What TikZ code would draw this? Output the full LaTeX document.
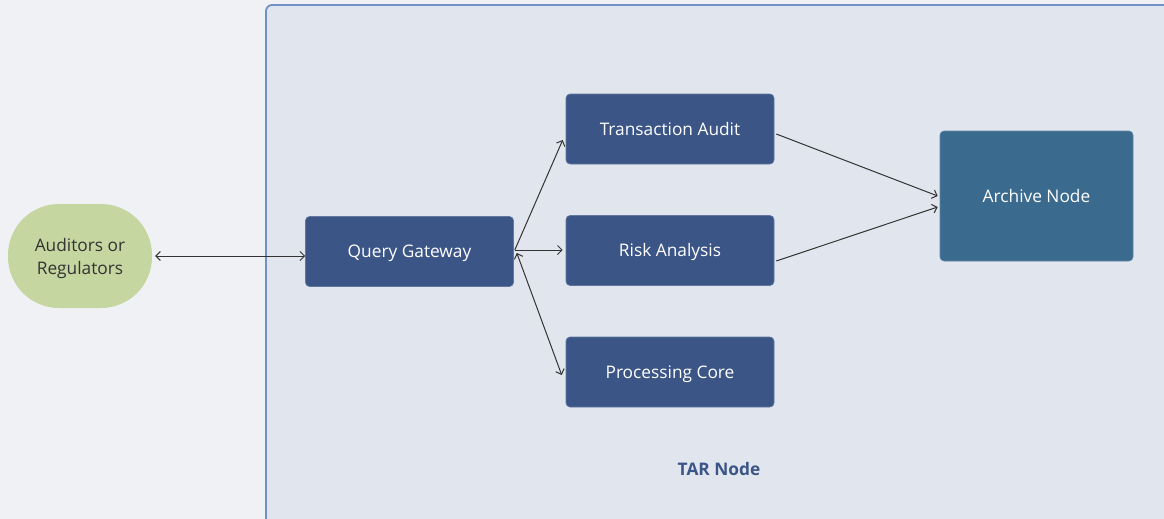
\documentclass[tikz,border=0pt]{standalone}
\usepackage{fontspec}
\setmainfont{Open Sans}
\usetikzlibrary{arrows.meta,shapes.geometric,calc}
\definecolor{pagebg}{HTML}{F0F1F4}
\definecolor{tarfill}{HTML}{E1E6EE}
\definecolor{tarline}{HTML}{7090C8}
\definecolor{boxblue}{HTML}{3C5587}
\definecolor{archblue}{HTML}{3A6A8E}
\definecolor{greenfill}{HTML}{C5D6A0}
\definecolor{linecol}{HTML}{333333}
\tikzset{
  procbox/.style={rectangle, rounded corners=4pt, fill=boxblue, draw=boxblue!80!white, line width=0.6pt,
    minimum width=208pt, minimum height=70pt, text=white, text height=12.4pt, text depth=0pt,
    font=\fontsize{17.3}{20}\selectfont},
  archbox/.style={rectangle, rounded corners=4pt, fill=archblue, draw=archblue!80!white, line width=0.6pt,
    minimum width=193pt, minimum height=130pt, text=white, text height=12.4pt, text depth=0pt,
    font=\fontsize{17.3}{20}\selectfont},
  actor/.style={rectangle, rounded corners=51pt, fill=greenfill, minimum width=144pt, minimum height=104pt, inner sep=0pt,
    text=linecol, align=center, text depth=0pt, font=\fontsize{17.3}{23}\selectfont},
  conn/.style={draw=linecol, line width=1pt, -{Straight Barb[length=4.5pt,width=9pt]}},
  biconn/.style={draw=linecol, line width=1pt, {Straight Barb[length=4.5pt,width=9pt]}-{Straight Barb[length=4.5pt,width=9pt]}}
}
\begin{document}
\begin{tikzpicture}[x=1pt,y=-1pt]
\useasboundingbox (0,0) rectangle (1164,519);
\fill[pagebg] (0,0) rectangle (1164,519);
\draw[fill=tarfill, draw=tarline, line width=1.8pt, rounded corners=6pt] (266,5) rectangle (1190,540);
\node[font=\fontsize{17.3}{20}\selectfont\bfseries, text=boxblue] (tarlabel) at (719,469) {TAR Node};

\node[actor] (aud) at (80,256) {Auditors or\\Regulators};
\node[procbox] (qg) at (409.5,251.5) {Query Gateway};
\node[procbox] (ta) at (670,129) {Transaction Audit};
\node[procbox] (ra) at (670,250.5) {Risk Analysis};
\node[procbox] (pc) at (670,372) {Processing Core};
\node[archbox] (arch) at (1036.5,196) {Archive Node};

\draw[biconn] ($(aud.east)+(3,0)$) -- ($(qg.west)+(0,4.5)$);
\draw[conn] ($(qg.east)+(1,-1.5)$) -- ($(ta.west)+(-3,11)$);
\draw[conn] ($(qg.east)+(1,-1.5)$) -- ($(ra.west)+(-3,-0.5)$);
\draw[biconn] ($(qg.east)+(3,1.5)$) -- ($(pc.west)+(-4,3)$);
\draw[conn] ($(ta.east)+(2,5)$) -- ($(arch.west)+(-2,0)$);
\draw[conn] ($(ra.east)+(2,10.5)$) -- ($(arch.west)+(-2,11)$);
\end{tikzpicture}
\end{document}
